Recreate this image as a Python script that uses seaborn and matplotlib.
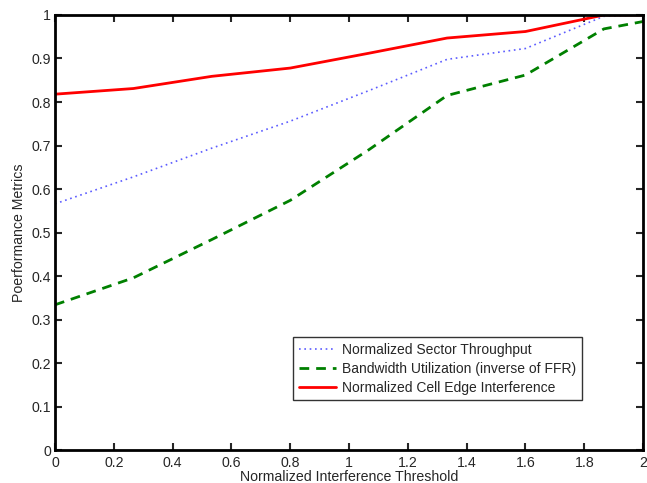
import numpy as np
import pandas as pd
import matplotlib
matplotlib.use("Agg")
import matplotlib.pyplot as plt
import seaborn as sns

# Normalized interference threshold values
thresholds = [0.0, 0.2667, 0.5333, 0.8, 1.0667, 1.3333, 1.6, 1.8667, 2.0]

# Performance metrics at each threshold
sector_throughput = [0.566, 0.628, 0.694, 0.756, 0.826, 0.898, 0.923, 0.997, 1.0]
bandwidth_util = [0.334, 0.396, 0.484, 0.574, 0.690, 0.815, 0.862, 0.968, 0.985]
edge_interference = [0.818, 0.831, 0.859, 0.878, 0.912, 0.947, 0.962, 1.0, 1.0]

series_names = [
    "Normalized Sector Throughput",
    "Bandwidth Utilization (inverse of FFR)",
    "Normalized Cell Edge Interference",
]

xticks = [0, 0.2, 0.4, 0.6, 0.8, 1, 1.2, 1.4, 1.6, 1.8, 2]
yticks = [0, 0.1, 0.2, 0.3, 0.4, 0.5, 0.6, 0.7, 0.8, 0.9, 1]

sns.set_style("ticks")
plt.rcParams["font.family"] = ["Liberation Sans", "DejaVu Sans"]

df = pd.DataFrame({
    "x": thresholds * 3,
    "y": sector_throughput + bandwidth_util + edge_interference,
    "series": [series_names[0]] * len(thresholds)
    + [series_names[1]] * len(thresholds)
    + [series_names[2]] * len(thresholds),
})

fig = plt.figure(figsize=(6.47, 4.83), dpi=100)
ax = fig.add_axes([0.085, 0.068, 0.909, 0.901])

styles = {
    series_names[0]: dict(color="#5c5cff", linestyle=(0, (1, 2.2)), linewidth=1.2),
    series_names[1]: dict(color="#008000", linestyle=(0, (3.5, 2.5)), linewidth=2.0),
    series_names[2]: dict(color="#ff0000", linestyle="-", linewidth=2.0),
}

for name in series_names:
    sub = df[df["series"] == name]
    sns.lineplot(data=sub, x="x", y="y", ax=ax, label=name, **styles[name])

fs = 10.2
ax.set_xlim(0, 2)
ax.set_ylim(0, 1)
ax.set_xticks(xticks)
ax.set_yticks(yticks)
ax.set_xticklabels([f"{t:g}" for t in xticks])
ax.set_yticklabels([f"{t:g}" for t in yticks])
ax.tick_params(direction="in", length=5, width=1.5, labelsize=fs,
               top=True, right=True, pad=4)
ax.tick_params(axis="y", pad=3)
for sp in ax.spines.values():
    sp.set_visible(True)
    sp.set_linewidth(2.0)
    sp.set_color("black")

ax.set_xlabel("Normalized Interference Threshold", fontsize=fs, labelpad=0.5)
ax.set_ylabel("Poerformance Metrics", fontsize=fs, labelpad=4)

leg = ax.legend(loc="lower left", bbox_to_anchor=(0.405, 0.115),
                borderaxespad=0, fontsize=10, frameon=True, fancybox=False,
                edgecolor="black", handlelength=2.7, handletextpad=0.45,
                borderpad=0.4, labelspacing=0.36)
leg.get_frame().set_linewidth(1.0)

fig.savefig("out.png", dpi=100)
